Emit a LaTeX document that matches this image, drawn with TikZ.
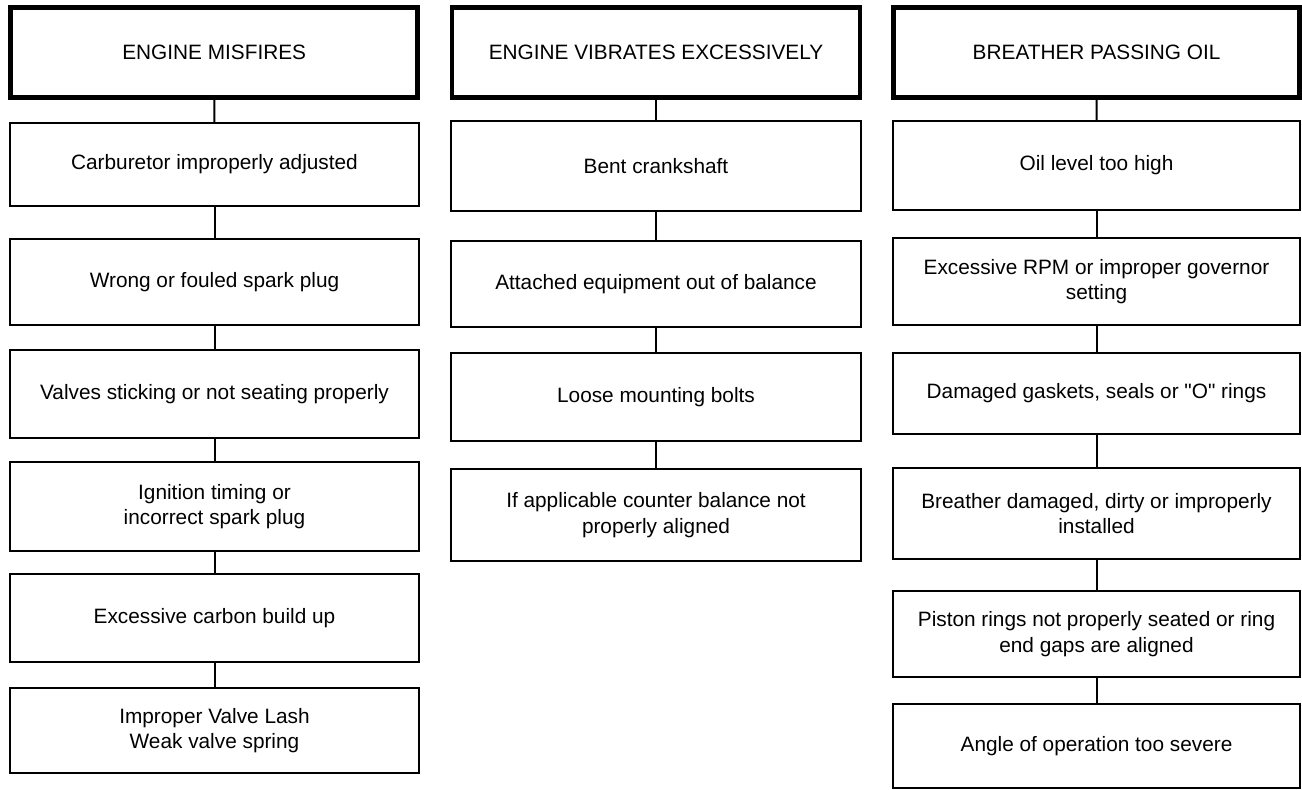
\documentclass[tikz,border=0pt]{standalone}
\usepackage{fontspec}
\setmainfont{Liberation Sans}
\usetikzlibrary{positioning}

\begin{document}
\begin{tikzpicture}[
  x=1pt, y=1pt,
  cause/.style={draw, line width=2pt, align=center, inner sep=0pt, outer sep=0pt, anchor=north, font=\fontsize{20.8}{25.7}\selectfont},
  symptom/.style={cause, line width=4.8pt},
  link/.style={line width=2pt}
]
\useasboundingbox (0,0) rectangle (1302,-790);

% engine misfires
\node[symptom, minimum width=406.7pt, minimum height=90pt] (mis) at (214.2,-7.5) {ENGINE MISFIRES};
\node[cause, minimum width=409pt, minimum height=83pt] (carb) at (214.5,-123) {Carburetor improperly adjusted};
\node[cause, minimum width=409pt, minimum height=86pt] (plug) at (214.5,-239) {Wrong or fouled spark plug};
\node[cause, minimum width=409pt, minimum height=88pt] (valves) at (214.5,-350) {Valves sticking or not seating properly};
\node[cause, minimum width=409pt, minimum height=89pt] (timing) at (214.5,-462) {Ignition timing or\\incorrect spark plug};
\node[cause, minimum width=409pt, minimum height=88pt] (carbon) at (214.5,-574) {Excessive carbon build up};
\node[cause, minimum width=409pt, minimum height=85pt] (lash) at (214.5,-688) {Improper Valve Lash\\Weak valve spring};

% engine vibrates
\node[symptom, minimum width=408pt, minimum height=90pt] (vib) at (656,-7.5) {ENGINE VIBRATES EXCESSIVELY};
\node[cause, minimum width=410pt, minimum height=90pt] (crank) at (656,-121) {Bent crankshaft};
\node[cause, minimum width=410pt, minimum height=86pt] (equip) at (656,-241) {Attached equipment out of balance};
\node[cause, minimum width=410pt, minimum height=88pt] (bolts) at (656,-353) {Loose mounting bolts};
\node[cause, minimum width=410pt, minimum height=92pt] (counter) at (656,-469) {If applicable counter balance not\\properly aligned};

% breather passing oil
\node[symptom, minimum width=405.8pt, minimum height=90pt] (oil) at (1096.6,-7.5) {BREATHER PASSING OIL};
\node[cause, minimum width=407pt, minimum height=89pt] (level) at (1096.5,-121) {Oil level too high};
\node[cause, minimum width=407pt, minimum height=87pt] (rpm) at (1096.5,-238) {Excessive RPM or improper governor\\setting};
\node[cause, minimum width=407pt, minimum height=81pt] (seals) at (1096.5,-353) {Damaged gaskets, seals or \textquotedbl O\textquotedbl{} rings};
\node[cause, minimum width=407pt, minimum height=91pt] (breather) at (1096.5,-468) {Breather damaged, dirty or improperly\\installed};
\node[cause, minimum width=407pt, minimum height=86pt] (rings) at (1096.5,-591) {Piston rings not properly seated or ring\\end gaps are aligned};
\node[cause, minimum width=407pt, minimum height=84pt] (angle) at (1096.5,-704) {Angle of operation too severe};

\draw[link] (mis) -- (carb);
\draw[link] (carb) -- (plug);
\draw[link] (plug) -- (valves);
\draw[link] (valves) -- (timing);
\draw[link] (timing) -- (carbon);
\draw[link] (carbon) -- (lash);

\draw[link] (vib) -- (crank);
\draw[link] (crank) -- (equip);
\draw[link] (equip) -- (bolts);
\draw[link] (bolts) -- (counter);

\draw[link] (oil) -- (level);
\draw[link] (level) -- (rpm);
\draw[link] (rpm) -- (seals);
\draw[link] (seals) -- (breather);
\draw[link] (breather) -- (rings);
\draw[link] (rings) -- (angle);
\end{tikzpicture}
\end{document}
